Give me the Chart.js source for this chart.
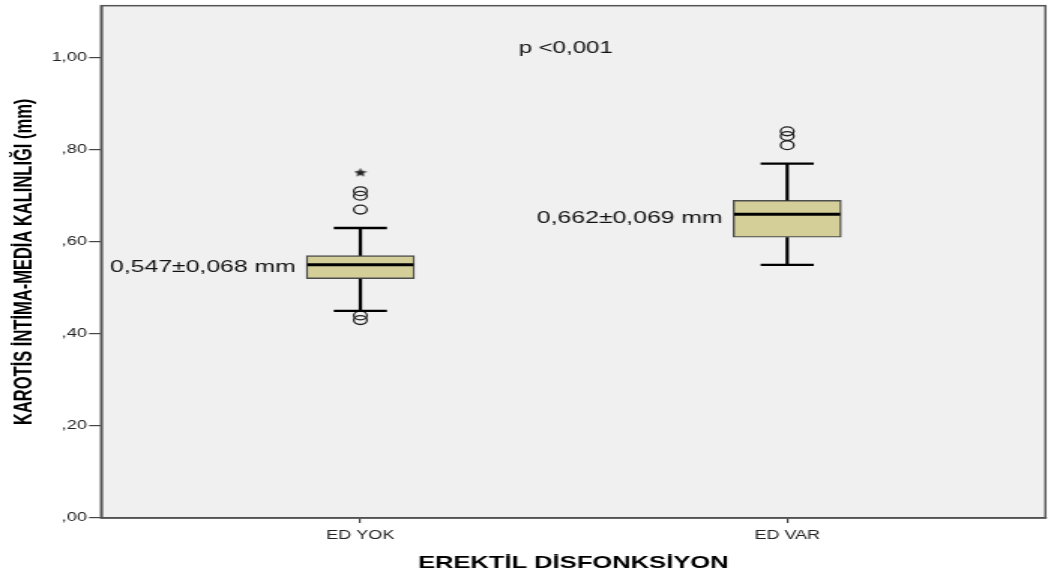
<!DOCTYPE html>
<html>
<head>
<meta charset="utf-8">
<script src="https://cdn.jsdelivr.net/npm/chart.js@4.4.1/dist/chart.umd.min.js"></script>
<style>
html, body { margin: 0; padding: 0; background: #fff; }
canvas { display: block; }
</style>
</head>
<body>
<!-- the SPSS picture is stretched sideways, so draw narrow and widen with css -->
<canvas id="myChart" width="702" height="577" style="width:1054px;height:577px"></canvas>
<script>
const categories = ['ED YOK', 'ED VAR'];
const q1 = [0.52, 0.61];
const medians = [0.55, 0.66];
const q3 = [0.57, 0.69];
const whiskerLow = [0.45, 0.55];
const whiskerHigh = [0.63, 0.77];
const outliers = [[0.71, 0.70, 0.67, 0.44, 0.43], [0.84, 0.83, 0.81]];
const extremes = [[0.75], []];
const meanLabels = ['0,547±0,068 mm', '0,662±0,069 mm'];
const yTicks = [0, 0.2, 0.4, 0.6, 0.8, 1.0];
const pText = 'p <0,001';

const FONT = '"Liberation Sans", Arial, sans-serif';
const boxWidth = 72;
const capHalf = 17.7;

function makeStar(size) {
    const c = document.createElement('canvas');
    c.width = size; c.height = size;
    const g = c.getContext('2d');
    const r = size / 2, ri = r * 0.45;
    g.beginPath();
    for (let k = 0; k < 10; k++) {
        const ang = -Math.PI / 2 + k * Math.PI / 5;
        const rr = k % 2 ? ri : r;
        g.lineTo(r + rr * Math.cos(ang), r + rr * Math.sin(ang));
    }
    g.closePath();
    g.fillStyle = '#222';
    g.fill();
    return c;
}

const boxPlot = {
    id: 'boxPlot',
    beforeDraw(chart) {
        const {ctx, chartArea: a} = chart;
        ctx.save();
        ctx.fillStyle = '#f0f0f0';
        ctx.fillRect(a.left, a.top, a.right - a.left, a.bottom - a.top);
        ctx.restore();
    },
    afterDatasetsDraw(chart) {
        const {ctx, scales: {x, y}} = chart;
        ctx.save();
        ctx.strokeStyle = '#000';
        categories.forEach((c, i) => {
            const cx = x.getPixelForValue(i + 1);
            const half = boxWidth / 2;
            // whiskers
            ctx.lineWidth = 2.2;
            ctx.beginPath();
            ctx.moveTo(cx, y.getPixelForValue(q3[i]));
            ctx.lineTo(cx, y.getPixelForValue(whiskerHigh[i]));
            ctx.moveTo(cx, y.getPixelForValue(q1[i]));
            ctx.lineTo(cx, y.getPixelForValue(whiskerLow[i]));
            ctx.stroke();
            ctx.lineWidth = 2.4;
            ctx.beginPath();
            [whiskerLow[i], whiskerHigh[i]].forEach(v => {
                const py = y.getPixelForValue(v);
                ctx.moveTo(cx - capHalf, py);
                ctx.lineTo(cx + capHalf, py);
            });
            ctx.stroke();
            // median
            ctx.lineWidth = 3;
            ctx.beginPath();
            const my = y.getPixelForValue(medians[i]);
            ctx.moveTo(cx - half + 0.7, my);
            ctx.lineTo(cx + half - 0.7, my);
            ctx.stroke();
            // mean ± sd text
            ctx.fillStyle = '#111';
            ctx.font = '16.5px ' + FONT;
            ctx.textAlign = 'right';
            ctx.textBaseline = 'middle';
            ctx.fillText(meanLabels[i], cx - half - 7, y.getPixelForValue((q1[i] + q3[i]) / 2));
        });
        ctx.restore();
    },
    afterDraw(chart) {
        const {ctx, chartArea: a} = chart;
        ctx.save();
        ctx.strokeStyle = '#555';
        ctx.lineWidth = 1.5;
        ctx.strokeRect(a.left, a.top, a.right - a.left, a.bottom - a.top);
        ctx.fillStyle = '#111';
        ctx.font = '16px ' + FONT;
        ctx.textAlign = 'center';
        ctx.textBaseline = 'middle';
        ctx.fillText(pText, (a.left + a.right) / 2 - 5, a.top + 43);
        ctx.restore();
    }
};

const boxes = categories.map((c, i) => ({x: i + 1, y: [q1[i], q3[i]]}));
const outPts = [];
outliers.forEach((list, i) => list.forEach(v => outPts.push({x: i + 1, y: v})));
const extPts = [];
extremes.forEach((list, i) => list.forEach(v => extPts.push({x: i + 1, y: v})));

const ctx = document.getElementById('myChart');

new Chart(ctx, {
    type: 'bar',
    data: {
        datasets: [{
            type: 'bar',
            data: boxes,
            backgroundColor: '#d4cf98',
            borderColor: '#4d4d4d',
            borderWidth: 1.4,
            borderSkipped: false,
            barThickness: boxWidth
        }, {
            type: 'scatter',
            data: outPts,
            pointStyle: 'circle',
            pointRadius: 4.4,
            borderWidth: 1.3,
            borderColor: '#222',
            backgroundColor: 'rgba(0,0,0,0)'
        }, {
            type: 'scatter',
            data: extPts,
            pointStyle: makeStar(9),
            pointRadius: 4
        }]
    },
    options: {
        responsive: false,
        devicePixelRatio: 1,
        animation: false,
        layout: { padding: { left: 0, right: 4, top: 5, bottom: 0 } },
        plugins: { legend: { display: false }, tooltip: { enabled: false } },
        scales: {
            x: {
                type: 'linear',
                min: 0.3925,
                max: 2.605,
                offset: false,
                afterBuildTicks: s => { s.ticks = categories.map((c, i) => ({value: i + 1})); },
                afterFit: s => { s.height = 59; },
                ticks: {
                    callback: v => categories[v - 1] || '',
                    font: { family: FONT, size: 12 },
                    color: '#222',
                    padding: 5,
                    maxRotation: 0,
                    autoSkip: false
                },
                grid: { drawOnChartArea: false, offset: false, tickLength: 5, color: '#444', lineWidth: 1.2 },
                border: { color: '#444', width: 1.5 },
                title: {
                    display: true,
                    text: 'EREKTİL DİSFONKSİYON',
                    font: { family: FONT, size: 17, weight: 'bold' },
                    color: '#000',
                    padding: { top: 0, bottom: 3.5 }
                }
            },
            y: {
                min: 0,
                max: 1.113,
                afterBuildTicks: s => { s.ticks = yTicks.map(v => ({value: v})); },
                afterFit: s => { s.width = 67.3; s.paddingTop = 0; s.paddingBottom = 0; },
                ticks: {
                    callback: v => v.toFixed(2).replace('.', ',').replace(/^0/, ''),
                    font: { family: FONT, size: 12 },
                    color: '#222',
                    padding: 1.5
                },
                grid: { drawOnChartArea: false, tickLength: 8, color: '#444', lineWidth: 1.2 },
                border: { color: '#444', width: 1.5 },
                title: {
                    display: true,
                    text: 'KAROTİS İNTİMA-MEDİA KALINLIĞI (mm)',
                    font: { family: FONT, size: 16.5, weight: 'bold' },
                    color: '#000',
                    padding: { top: 6.4, bottom: 0 }
                }
            }
        }
    },
    plugins: [boxPlot]
});
</script>
</body>
</html>
